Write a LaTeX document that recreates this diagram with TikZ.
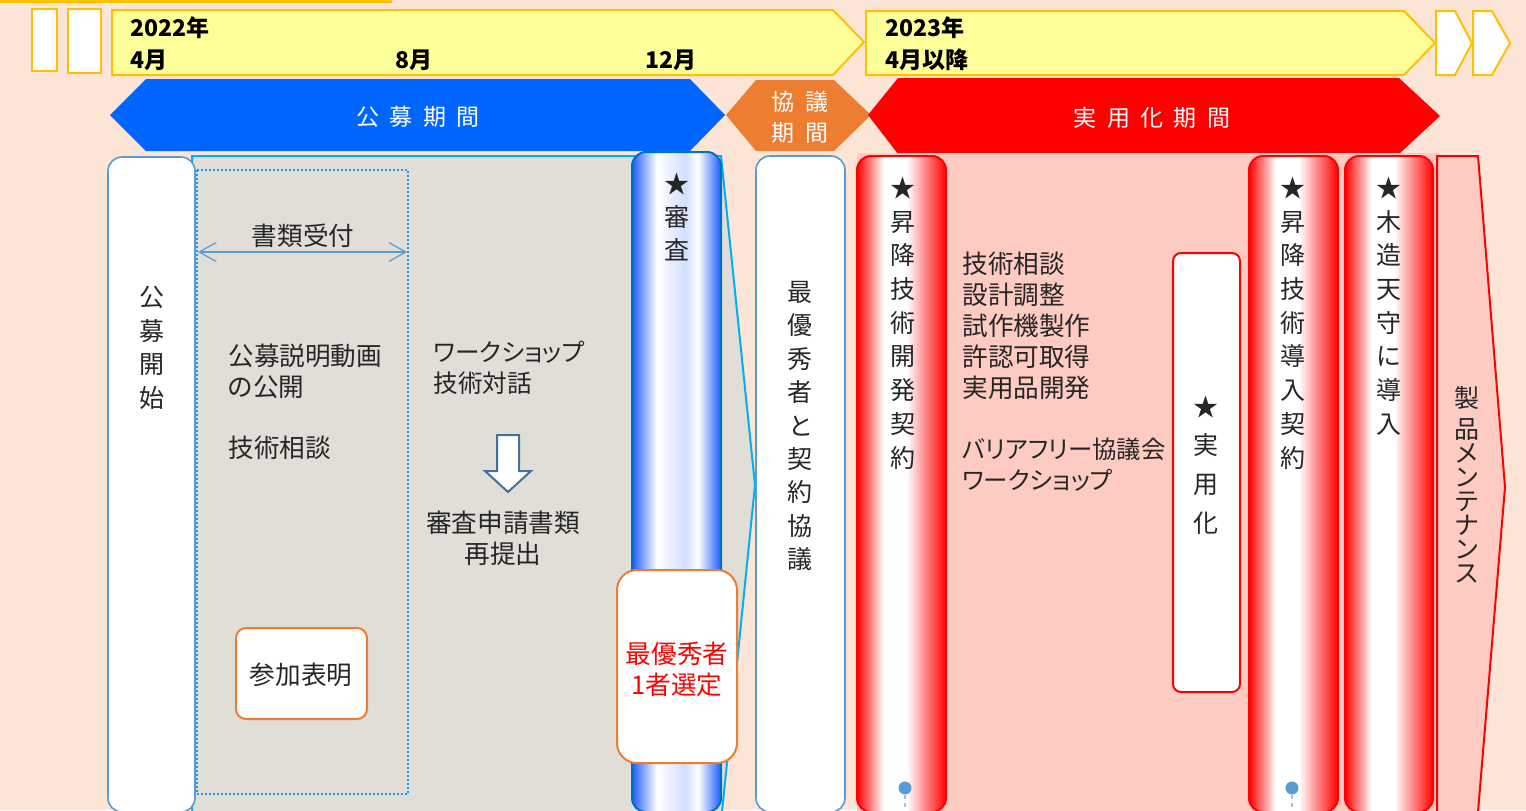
\documentclass[tikz,border=0pt]{standalone}
\usepackage{fontspec}
\setmainfont{Noto Sans CJK JP}[RawFeature=+palt]
\usetikzlibrary{arrows.meta}

\definecolor{bgpeach}{HTML}{FCE4D6}
\definecolor{stripyellow}{HTML}{FFFF99}
\definecolor{stripline}{HTML}{FFC000}
\definecolor{bandblue}{HTML}{0066FF}
\definecolor{bandorange}{HTML}{ED7D31}
\definecolor{panelgrey}{HTML}{E1DED7}
\definecolor{panelline}{HTML}{00B0F0}
\definecolor{dotline}{HTML}{1A9BF0}
\definecolor{pillarline}{HTML}{5B9BD5}
\definecolor{reviewline}{HTML}{0070C0}
\definecolor{barblue}{HTML}{1F5CFF}
\colorlet{barpale}{white!80!barblue}
\definecolor{panelpink}{HTML}{FDCBC1}
\definecolor{arrowline}{HTML}{41719C}
\definecolor{txt}{HTML}{262626}

\pgfdeclarehorizontalshading{reviewbar}{100bp}{color(0bp)=(barblue); color(25bp)=(barblue); color(39bp)=(white); color(55bp)=(barpale); color(62bp)=(white); color(75bp)=(barblue); color(100bp)=(barblue)}
\pgfdeclarehorizontalshading{contractbar}{100bp}{color(0bp)=(red); color(25bp)=(red); color(40bp)=(white); color(53bp)=(white); color(75bp)=(red); color(100bp)=(red)}

\newcommand{\bandgap}{\hspace{0.45em}}

\begin{document}
\begin{tikzpicture}[x=0.5pt,y=-0.5pt,
    yearlabel/.style={font=\bfseries\fontsize{11.5}{14}\selectfont, anchor=west, inner sep=0pt},
    bandlabel/.style={font=\fontsize{11.5}{15.5}\selectfont, text=white, align=center, inner sep=0pt},
    bodytext/.style={font=\fontsize{12.8}{15.5}\selectfont, text=txt, align=left, anchor=west, inner sep=0pt},
    vcol/.style={font=\fontsize{12.5}{16.85}\selectfont, text=txt, align=center, inner sep=0pt},
    stripbox/.style={draw=stripline, fill=white, line width=1pt},
    whitebar/.style={draw=pillarline, fill=white, line width=0.8pt, rounded corners=7pt},
    redbar/.style={draw=red, line width=1pt, rounded corners=7pt, shade, shading=contractbar},
    orangebox/.style={draw=bandorange, fill=white, line width=1pt, rounded corners=5pt},
    bluedot/.style={circle, fill=pillarline, inner sep=0pt, minimum size=6.5pt},
    dotlink/.style={draw=pillarline!60, line width=0.8pt, dash pattern=on 2pt off 2pt}]
        \useasboundingbox (0,0) rectangle (1526,810);
        \clip (0,0) rectangle (1526,810);

        % Background
        \fill[bgpeach] (0,0) rectangle (1526,810);
        \fill[stripline] (0,0) rectangle (392,3);

        % Time strip
        \draw[stripbox] (32,9) rectangle (57,71);
        \draw[stripbox] (68,9) rectangle (101,73);
        \draw[stripbox, fill=stripyellow] (112,10) -- (833,10) -- (864,42) -- (833,75) -- (112,75) -- cycle;
        \draw[stripbox, fill=stripyellow] (866,11) -- (1404,11) -- (1435,43) -- (1404,75) -- (866,75) -- cycle;
        \draw[stripbox] (1436,11) -- (1455,11) -- (1472,43) -- (1455,75) -- (1436,75) -- cycle;
        \draw[stripbox] (1473,11) -- (1492,11) -- (1510,43) -- (1492,75) -- (1473,75) -- cycle;
        \node[yearlabel] (yr22) at (130,28) {2022年};
        \node[yearlabel] (apr22) at (130,60) {4月};
        \node[yearlabel] (aug22) at (395,60) {8月};
        \node[yearlabel] (dec22) at (645,60) {12月};
        \node[yearlabel] (yr23) at (885,28) {2023年};
        \node[yearlabel] (apr23) at (885,60) {4月以降};

        % Period bands
        \fill[bandblue] (110,115) -- (146,79) -- (690,79) -- (725,115) -- (690,151) -- (146,151) -- cycle;
        \node[bandlabel] (callband) at (418,117) {公\bandgap 募\bandgap 期\bandgap 間};
        \fill[bandorange] (726,115) -- (756,80) -- (834,80) -- (871,115) -- (834,151) -- (756,151) -- cycle;
        \node[bandlabel] (talkband) at (800,117) {協\bandgap 議\\期\bandgap 間};
        \fill[red] (868,115) -- (898,78) -- (1399,78) -- (1440,116) -- (1399,154) -- (898,154) -- cycle;
        \node[bandlabel] (useband) at (1152,118) {実\bandgap 用\bandgap 化\bandgap 期\bandgap 間};

        % Call period panel
        \draw[panelline, fill=panelgrey, line width=1pt] (192,156) -- (721,156) -- (755,485) -- (722,812) -- (192,812) -- cycle;
        \draw[whitebar] (108,157) rectangle (195,812);
        \node[vcol] (callstart) at (152,348) {公\\募\\開\\始};

        \draw[dotline, line width=1pt, dash pattern=on 1pt off 1pt] (197,170) rectangle (408,794);
        \coordinate (recvL) at (198,252);
        \coordinate (recvR) at (407,252);
        \draw[pillarline, line width=0.6pt, {Straight Barb[length=8.5pt,width=9.5pt]}-{Straight Barb[length=8.5pt,width=9.5pt]}] (recvL) -- (recvR);
        \node[bodytext, anchor=center] (recv) at (303,236) {書類受付};

        \node[bodytext] (video) at (228,371) {公募説明動画\\の公開};
        \node[bodytext] (consult) at (228,448) {技術相談};
        \node[bodytext, font=\fontsize{12.3}{15.5}\selectfont] (workshop) at (433,368) {ワークショップ\\技術対話};
        \draw[arrowline, fill=white, line width=1pt] (497,435) -- (519,435) -- (519,471) -- (531,471) -- (508,492) -- (485,471) -- (497,471) -- cycle;
        \node[bodytext, align=center, anchor=center] (resubmit) at (503,538) {審査申請書類\\再提出};

        \draw[orangebox] (236,628) rectangle (367,719);
        \node[bodytext, anchor=center] (entry) at (301,675) {参加表明};

        % Review
        \draw[reviewline, line width=1pt, rounded corners=7pt, shade, shading=reviewbar] (632,152) rectangle (721,812);
        \node[vcol, font=\fontsize{12.5}{16.3}\selectfont] (review) at (677,217) {★\\審\\査};
        \draw[orangebox, rounded corners=10pt] (617,570) rectangle (737,763);
        \node[bodytext, align=center, anchor=center, text=red] (winner) at (677,669) {最優秀者\\1者選定};

        % Negotiation
        \draw[whitebar] (756,156) rectangle (845,812);
        \node[vcol, font=\fontsize{12.5}{16.7}\selectfont] (negotiate) at (800,426) {最\\優\\秀\\者\\と\\契\\約\\協\\議};

        % Practical use period
        \fill[panelpink] (857,153) rectangle (1440,812);
        \draw[redbar] (857,156) rectangle (946,812);
        \node[vcol] (devcontract) at (903,323) {★\\昇\\降\\技\\術\\開\\発\\契\\約};
        \node[bluedot] (devdot) at (905,788) {};
        \coordinate (devend) at (905,812);
        \draw[dotlink] (devdot) -- (devend);

        \node[bodytext] (rdtasks) at (962,326) {技術相談\\設計調整\\試作機製作\\許認可取得\\実用品開発};
        \node[bodytext, font=\fontsize{12.2}{15.5}\selectfont] (rdmeet) at (962,465) {バリアフリー協議会\\ワークショップ};

        \draw[draw=red, fill=white, line width=1pt, rounded corners=4pt] (1173,253) rectangle (1240,692);
        \node[vcol, font=\fontsize{12.5}{19.4}\selectfont] (practical) at (1206,465) {★\\実\\用\\化};

        \draw[redbar] (1249,156) rectangle (1338,812);
        \node[vcol] (introcontract) at (1293,323) {★\\昇\\降\\技\\術\\導\\入\\契\\約};
        \node[bluedot] (introdot) at (1292,788) {};
        \coordinate (introend) at (1292,812);
        \draw[dotlink] (introdot) -- (introend);

        \draw[redbar] (1345,156) rectangle (1433,812);
        \node[vcol] (castle) at (1389,306) {★\\木\\造\\天\\守\\に\\導\\入};

        % Maintenance
        \draw[red, fill=panelpink, line width=1pt] (1437,156) -- (1478,156) -- (1505,487) -- (1478,812) -- (1437,812) -- cycle;
        \node[vcol, font=\fontsize{12.5}{15.5}\selectfont] (maint) at (1467,485) {製\\品\\[-3.5pt]メ\\[-3.5pt]ン\\[-3.5pt]テ\\[-3.5pt]ナ\\[-3.5pt]ン\\[-3.5pt]ス};
    \end{tikzpicture}
\end{document}
